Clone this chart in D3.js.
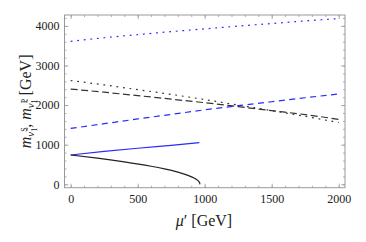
<!DOCTYPE html>
<html>
<head>
<meta charset="utf-8">
<script src="https://cdn.jsdelivr.net/npm/d3@7"></script>
<style>
  body { margin: 0; background: #fff; }
  text { font-family: "Liberation Serif", "DejaVu Serif", serif; fill: #222; }
</style>
</head>
<body>
<svg id="chart" width="366" height="242"></svg>
<script>
// Dados (mu' em GeV, massas em GeV)
var blueDotted = [[0, 3610], [250, 3700], [500, 3780], [750, 3855], [1000, 3925], [1250, 3995], [1500, 4060], [1750, 4125], [2000, 4185]];
var blackDotted = [[0, 2620], [250, 2510], [500, 2390], [750, 2270], [1000, 2140], [1250, 2000], [1500, 1860], [1750, 1715], [2000, 1560]];
var blackDashed = [[0, 2405], [250, 2325], [500, 2240], [750, 2150], [1000, 2060], [1250, 1960], [1500, 1860], [1750, 1760], [2000, 1640]];
var blueDashed = [[0, 1410], [250, 1530], [500, 1650], [750, 1765], [1000, 1880], [1250, 1985], [1500, 2085], [1750, 2185], [2000, 2280]];
var blueSolid = [[0, 740], [250, 830], [500, 910], [750, 985], [960, 1050]];
var blackSolid = [[0, 740], [200, 660], [400, 566], [600, 455], [700, 388], [800, 306], [880, 219], [920, 160], [950, 92], [960, 53], [965, 0]];

var xTicks = [0, 500, 1000, 1500, 2000];
var yTicks = [0, 1000, 2000, 3000, 4000];

var margin = {left: 64.5, right: 21, top: 15, bottom: 54.3};
var width = 366, height = 242;

var svg = d3.select("#chart");

var x = d3.scaleLinear().domain([-46, 2047]).range([margin.left, width - margin.right]);
var y = d3.scaleLinear().domain([-86, 4275]).range([height - margin.bottom, margin.top]);

var xMinor = d3.range(0, 2001, 100);
var yMinor = d3.range(0, 4201, 200);

//Eixos: ticks para dentro, espelhados nos quatro lados.
function styleAxis(g) {
  g.select(".domain").remove();
  g.selectAll(".tick line").attr("stroke", "#999").attr("stroke-width", 0.8);
  g.selectAll(".tick text").style("font-size", "12px").attr("fill", "#222");
}

var y0 = y.range()[0], y1 = y.range()[1];
var x0 = x.range()[0], x1 = x.range()[1];

svg.append("g").attr("transform", "translate(0," + y0 + ")")
  .call(d3.axisBottom(x).tickValues(xMinor).tickSize(-2).tickFormat(""))
  .call(styleAxis);
svg.append("g").attr("transform", "translate(0," + y0 + ")")
  .call(d3.axisBottom(x).tickValues(xTicks).tickSize(-4).tickPadding(7).tickFormat(d3.format("d")))
  .call(styleAxis);
svg.append("g").attr("transform", "translate(0," + y1 + ")")
  .call(d3.axisTop(x).tickValues(xMinor).tickSize(-2).tickFormat(""))
  .call(styleAxis);
svg.append("g").attr("transform", "translate(0," + y1 + ")")
  .call(d3.axisTop(x).tickValues(xTicks).tickSize(-4).tickFormat(""))
  .call(styleAxis);

svg.append("g").attr("transform", "translate(" + x0 + ",0)")
  .call(d3.axisLeft(y).tickValues(yMinor).tickSize(-2).tickFormat(""))
  .call(styleAxis);
svg.append("g").attr("transform", "translate(" + x0 + ",0)")
  .call(d3.axisLeft(y).tickValues(yTicks).tickSize(-4).tickPadding(5).tickFormat(d3.format("d")))
  .call(styleAxis);
svg.append("g").attr("transform", "translate(" + x1 + ",0)")
  .call(d3.axisRight(y).tickValues(yMinor).tickSize(-2).tickFormat(""))
  .call(styleAxis);
svg.append("g").attr("transform", "translate(" + x1 + ",0)")
  .call(d3.axisRight(y).tickValues(yTicks).tickSize(-4).tickFormat(""))
  .call(styleAxis);

//Moldura
svg.append("rect")
  .attr("x", x0).attr("y", y1)
  .attr("width", x1 - x0).attr("height", y0 - y1)
  .attr("fill", "none").attr("stroke", "#999").attr("stroke-width", 1);

//Curvas
var line = d3.line()
  .x(function(d) { return x(d[0]); })
  .y(function(d) { return y(d[1]); })
  .curve(d3.curveMonotoneX);

var lineVert = d3.line()
  .x(function(d) { return x(d[0]); })
  .y(function(d) { return y(d[1]); })
  .curve(d3.curveMonotoneY);

var series = [
  {data: blueDotted, color: "#2a2aff", dash: "1.8,4.8"},
  {data: blackDotted, color: "#333", dash: "1.8,4.8"},
  {data: blackDashed, color: "#333", dash: "7,3.5"},
  {data: blueDashed, color: "#2a2aff", dash: "6,4.5"},
  {data: blueSolid, color: "#2a2aff", dash: null},
  {data: blackSolid, color: "#222", dash: null}
];

series.forEach(function(s) {
  var p = svg.append("path")
    .datum(s.data)
    .attr("d", s.data === blackSolid ? lineVert(s.data) : line(s.data))
    .attr("fill", "none")
    .attr("stroke", s.color)
    .attr("stroke-width", 1.2);
  if (s.dash) p.attr("stroke-dasharray", s.dash);
});

//Rotulo eixo x
svg.append("text")
  .attr("x", 204).attr("y", 226)
  .style("text-anchor", "middle")
  .style("font-size", "16px")
  .html('<tspan font-style="italic">μ</tspan>′ [GeV]');

//Rotulo eixo y
var yl = svg.append("text")
  .attr("transform", "translate(31," + ((y0 + y1) / 2) + ") rotate(-90)")
  .style("text-anchor", "middle")
  .style("font-size", "16px");
yl.append("tspan").attr("font-style", "italic").text("m");
yl.append("tspan").attr("font-style", "italic").attr("font-size", "11px").attr("dy", 3).text("ν\u0303");
yl.append("tspan").attr("font-size", "8px").attr("dy", -7).text("S");
yl.append("tspan").attr("font-size", "8px").attr("dx", -4.5).attr("dy", 10).text("1");
yl.append("tspan").attr("dy", -6).text(", ");
yl.append("tspan").attr("font-style", "italic").text("m");
yl.append("tspan").attr("font-style", "italic").attr("font-size", "11px").attr("dy", 3).text("ν\u0303");
yl.append("tspan").attr("font-size", "8px").attr("dy", -7).text("P");
yl.append("tspan").attr("font-size", "8px").attr("dx", -4.5).attr("dy", 10).text("1");
yl.append("tspan").attr("dy", -6).text(" [GeV]");
</script>
</body>
</html>
